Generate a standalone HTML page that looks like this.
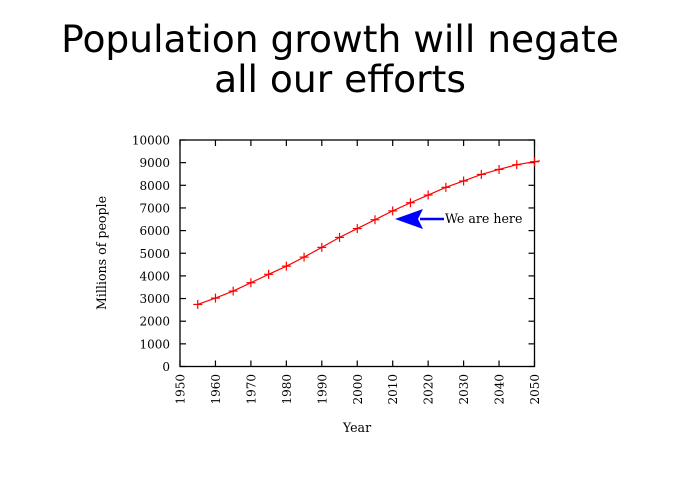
<!DOCTYPE html>
<html><head><style>body{margin:0;background:#fff}</style></head><body>
<svg width="679" height="480" xmlns="http://www.w3.org/2000/svg">
<rect width="679" height="480" fill="#fff"/>
<g font-family="DejaVu Sans, sans-serif" font-size="37.6" text-anchor="middle" fill="#000">
<text x="340" y="52">Population growth will negate</text>
<text x="340" y="92">all our efforts</text>
</g>
<g id="ax" stroke="#000" stroke-width="1.3" fill="none">
<rect x="180" y="140" width="354.5" height="226.5"/>
</g>
<g stroke="#000" stroke-width="1.2" id="ticks"></g>
<g font-family="DejaVu Serif, serif" font-size="12" fill="#000" id="labels"></g>
<polyline id="line" fill="none" stroke="#f00" stroke-width="1.2"/>
<g id="marks" stroke="#f00" stroke-width="1.2"></g>
<line x1="420" y1="219" x2="444" y2="219" stroke="#00f" stroke-width="2.5"/>
<polygon points="395,219 423,209 418,219 423,229" fill="#00f"/>
<text x="445" y="223" font-family="DejaVu Serif, serif" font-size="12.6">We are here</text>
<text x="357" y="432" font-family="DejaVu Serif, serif" font-size="12.6" text-anchor="middle">Year</text>
<text transform="translate(106,253) rotate(-90)" font-family="DejaVu Serif, serif" font-size="12.6" text-anchor="middle">Millions of people</text>
</svg>
<script>
const X=y=>180+(y-1950)*3.545, Y=v=>366.5-v*0.02265;
const t=document.getElementById('ticks'),l=document.getElementById('labels');
let s='',L='';
for(let i=0;i<=10;i++){const y=Y(i*1000);
 s+=`<line x1="180" y1="${y}" x2="186" y2="${y}"/><line x1="528.5" y1="${y}" x2="534.5" y2="${y}"/>`;
 L+=`<text x="170" y="${y+4.5}" text-anchor="end">${i*1000}</text>`;}
for(let yr=1950;yr<=2050;yr+=10){const x=X(yr);
 s+=`<line x1="${x}" y1="366.5" x2="${x}" y2="360.5"/><line x1="${x}" y1="140" x2="${x}" y2="146"/>`;
 L+=`<text transform="translate(${x+4.5},374) rotate(-90)" text-anchor="end">${yr}</text>`;}
t.innerHTML=s;l.innerHTML=L;
const d=[2740,3020,3330,3700,4070,4430,4830,5260,5700,6090,6480,6870,7230,7570,7910,8190,8480,8700,8910,9040];
let pts=[],m='';
d.forEach((v,i)=>{const x=X(1955+5*i),y=Y(v);pts.push(x+','+y);
 m+=`<line x1="${x-4.5}" y1="${y}" x2="${x+4.5}" y2="${y}"/><line x1="${x}" y1="${y-4.5}" x2="${x}" y2="${y+4.5}"/>`;});
pts.push('540,'+Y(9080));
document.getElementById('line').setAttribute('points',pts.join(' '));
document.getElementById('marks').innerHTML=m;
</script>
</body></html>
